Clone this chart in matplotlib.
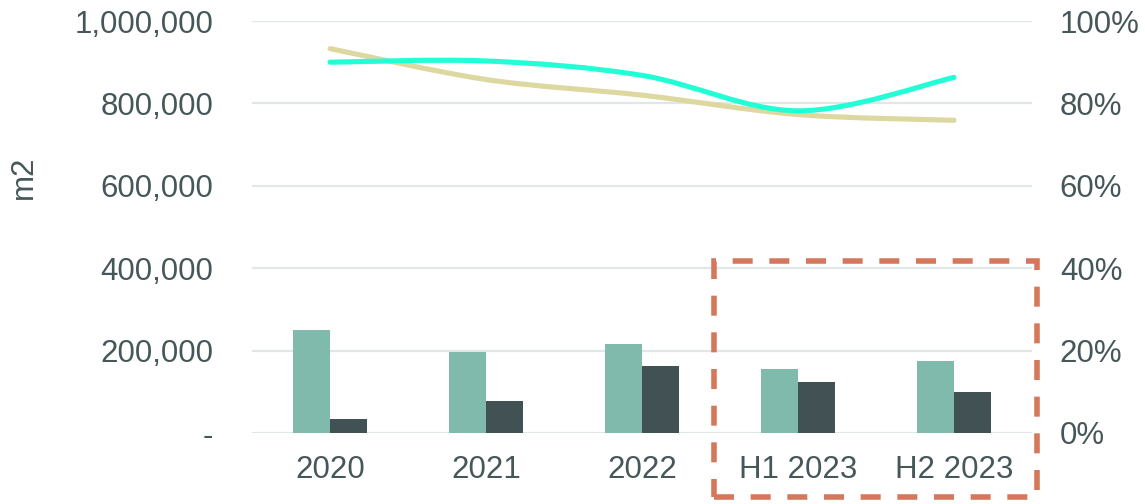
import numpy as np
import matplotlib
matplotlib.use("Agg")
import matplotlib.pyplot as plt
from matplotlib.path import Path
from matplotlib.patches import PathPatch, Rectangle
from matplotlib.ticker import FuncFormatter

categories = ["2020", "2021", "2022", "H1 2023", "H2 2023"]
series_a = [250000, 197600, 217000, 155000, 174000]   # light bars (m2)
series_b = [33000, 78500, 162500, 125000, 99000]      # dark bars (m2)
line_cyan = [0.900, 0.903, 0.868, 0.782, 0.863]       # right axis share
line_khaki = [0.933, 0.858, 0.820, 0.773, 0.759]      # right axis share
left_ticks = [0, 200000, 400000, 600000, 800000, 1000000]
right_ticks = [0, 0.2, 0.4, 0.6, 0.8, 1.0]

TXT = "#46575A"
FS = 22.5
plt.rcParams['font.family'] = ['Liberation Sans', 'DejaVu Sans']

fig = plt.figure(figsize=(11.45, 5.04), dpi=100)
W, H = 1145, 504
ax = fig.add_axes([252 / W, 71 / H, 780 / W, 412 / H])
x = np.arange(len(categories))
bw = 0.237
ax.bar(x - bw / 2, series_a, width=bw, color="#7FBAAC", zorder=3)
ax.bar(x + bw / 2, series_b, width=bw, color="#425154", zorder=3)
ax.set_xlim(-0.5, len(categories) - 0.5)
ax.set_ylim(0, 1000000)
ax.set_yticks(left_ticks)
ax.yaxis.set_major_formatter(FuncFormatter(lambda v, p: "-" if v == 0 else f"{v:,.0f}"))
ax.set_xticks(x)
ax.set_xticklabels(categories)
ax.grid(axis="y", color="#E1E6E6", lw=1.6, zorder=0)
ax.set_axisbelow(True)
for s in ax.spines.values():
    s.set_visible(False)
ax.tick_params(axis="y", length=0, pad=28, labelsize=FS, labelcolor=TXT)
ax.tick_params(axis="x", length=0, pad=16, labelsize=FS, labelcolor=TXT)

ax2 = ax.twinx()
ax2.set_ylim(0, 1.0)
ax2.set_yticks(right_ticks)
ax2.yaxis.set_major_formatter(FuncFormatter(lambda v, p: f"{v * 100:.0f}%"))
ax2.tick_params(axis="y", length=0, pad=20, labelsize=FS, labelcolor=TXT)
for s in ax2.spines.values():
    s.set_visible(False)


def smooth_path(xs, ys):
    pts = np.column_stack([xs, ys]).astype(float)
    n = len(pts)
    verts = [pts[0]]
    codes = [Path.MOVETO]
    for i in range(n - 1):
        p0 = pts[max(i - 1, 0)]
        p1 = pts[i]
        p2 = pts[i + 1]
        p3 = pts[min(i + 2, n - 1)]
        c1 = p1 + (p2 - p0) / 6.0
        c2 = p2 - (p3 - p1) / 6.0
        verts += [c1, c2, p2]
        codes += [Path.CURVE4] * 3
    return Path(verts, codes)


for vals, col in [(line_khaki, "#DDD8A0"), (line_cyan, "#22FFD6")]:
    patch = PathPatch(smooth_path(x, vals), fill=False, edgecolor=col, lw=3.7,
                      capstyle="round", joinstyle="round", zorder=4)
    ax2.add_patch(patch)

fig.text(24 / W, 1 - 177 / H, "m2", rotation=90, ha="center", va="center",
         fontsize=FS, color=TXT)

rect = Rectangle((714 / W, 1 - 497 / H), (1037 - 714) / W, (497 - 261) / H,
                 transform=fig.transFigure, fill=False, edgecolor="#D5775A",
                 lw=4, linestyle=(0, (3.6, 3.0)), zorder=10)
fig.patches.append(rect)

fig.savefig("out.png", dpi=100)
